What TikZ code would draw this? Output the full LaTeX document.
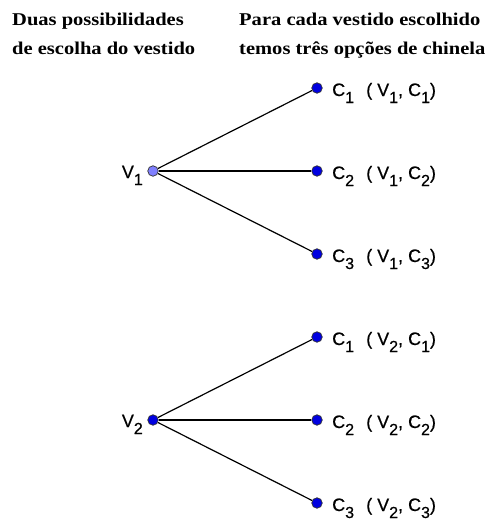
\documentclass[tikz,border=0pt]{standalone}
\usepackage{fontspec}
\setmainfont{Liberation Serif}
\setsansfont[FakeBold=0.6]{Liberation Sans}
\usetikzlibrary{positioning}
\newcommand{\idx}[1]{\raisebox{-7pt}{\fontsize{16}{16}\selectfont #1}}
\newcommand{\headtext}[1]{\scalebox{1.14}[1]{#1}}

\begin{document}
\begin{tikzpicture}[x=1pt, y=-1pt,
        font=\sffamily\fontsize{18}{20}\selectfont,
        head/.style={anchor=base west, inner sep=0pt, font=\rmfamily\bfseries\fontsize{18}{20}\selectfont},
        dot/.style={circle, draw=black!80, line width=0.7pt, fill=blue!88!black, inner sep=0pt, minimum size=10.5pt},
        lbl/.style={anchor=base west, inner sep=0pt}]
    \useasboundingbox (0,0) rectangle (492,519);
    % headers
    \node[head] (h1) at (12,26) {\headtext{Duas possibilidades}};
    \node[head] (h2) at (12,55) {\headtext{de escolha do vestido}};
    \node[head] (h3) at (239,26) {\headtext{Para cada vestido escolhido}};
    \node[head] (h4) at (239,55) {\headtext{temos três opções de chinela}};
    % the two trees
    \foreach \v/\y/\col in {1/171/blue!50, 2/420/blue!88!black}{
        \node[dot, fill=\col] (v\v) at (153,\y) {};
        \node[lbl, anchor=base east] (lv\v) at (143,\y+7) {V\idx{\v}};
        \foreach \c/\dy in {1/-83, 2/0, 3/83}{
            \node[dot] (c\v\c) at (317,\y+\dy) {};
            \draw[line width=1.2pt] (v\v) -- (c\v\c);
            \node[lbl] (lc\v\c) at (332,\y+\dy+8) {C\idx{\c}};
            \node[lbl] (p\v\c) at (366,\y+\dy+8) {( V\idx{\v}, C\idx{\c})};
        }
    }
\end{tikzpicture}
\end{document}
